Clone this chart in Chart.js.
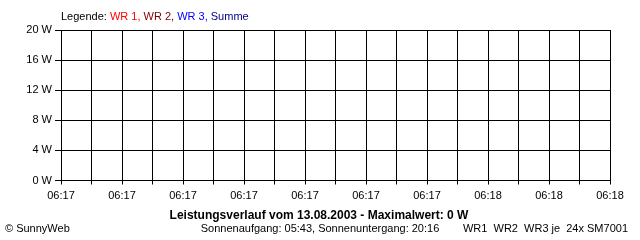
<!DOCTYPE html>
<html>
<head>
<meta charset="utf-8">
<script src="https://cdn.jsdelivr.net/npm/chart.js@4/dist/chart.umd.min.js"></script>
<style>
  html, body { margin: 0; padding: 0; background: #fff; }
  #wrap { width: 640px; height: 240px; }
</style>
</head>
<body>
<div id="wrap"><canvas id="powerChart"></canvas></div>
<script>
// tick labels on the time axis (every second grid line)
const timeLabels = ['06:17', '06:17', '06:17', '06:17', '06:17', '06:17', '06:17', '06:18', '06:18', '06:18'];

// series values (W) - one per grid line, nothing was produced
const wr1Values   = [0, 0, 0, 0, 0, 0, 0, 0, 0, 0, 0, 0, 0, 0, 0, 0, 0, 0, 0];
const wr2Values   = [0, 0, 0, 0, 0, 0, 0, 0, 0, 0, 0, 0, 0, 0, 0, 0, 0, 0, 0];
const wr3Values   = [0, 0, 0, 0, 0, 0, 0, 0, 0, 0, 0, 0, 0, 0, 0, 0, 0, 0, 0];
const summeValues = [0, 0, 0, 0, 0, 0, 0, 0, 0, 0, 0, 0, 0, 0, 0, 0, 0, 0, 0];

const seriesNames  = ['WR 1', 'WR 2', 'WR 3', 'Summe'];
const seriesColors = ['#ff0000', '#800000', '#0000ff', '#000080'];

const yMax = 20;
const yStep = 4;

const titleText = 'Leistungsverlauf vom 13.08.2003 - Maximalwert: 0 W';
const sunText = 'Sonnenaufgang: 05:43, Sonnenuntergang: 20:16';
const plantText = 'WR1  WR2  WR3 je  24x SM7001';
const copyText = '\u00a9 SunnyWeb';

const FONT = '"Liberation Sans", Arial, sans-serif';

// category labels: a time on every second line, blank in between
const xLabels = [];
timeLabels.forEach((t, i) => {
    xLabels.push(t);
    if (i < timeLabels.length - 1) xLabels.push('');
});

const textPlugin = {
    id: 'sunnyText',
    afterDraw(chart) {
        const ctx = chart.ctx;
        ctx.save();
        ctx.textBaseline = 'middle';

        // legend line
        ctx.font = '11px ' + FONT;
        ctx.textAlign = 'left';
        let x = 61;
        ctx.fillStyle = '#000';
        ctx.fillText('Legende: ', x, 17);
        x += ctx.measureText('Legende: ').width;
        seriesNames.forEach((name, i) => {
            const part = name + (i < seriesNames.length - 1 ? ', ' : '');
            ctx.fillStyle = seriesColors[i];
            ctx.fillText(part, x, 17);
            x += ctx.measureText(part).width;
        });

        // bottom texts
        ctx.fillStyle = '#000';
        ctx.font = 'bold 12px ' + FONT;
        ctx.textAlign = 'center';
        ctx.fillText(titleText, 319, 216);

        ctx.font = '11px ' + FONT;
        ctx.fillText(sunText, 320, 229);
        ctx.textAlign = 'left';
        ctx.fillText(copyText, 5, 229);
        ctx.textAlign = 'right';
        ctx.fillText(plantText, 628, 229);
        ctx.restore();
    }
};

const ctx = document.getElementById('powerChart').getContext('2d');

new Chart(ctx, {
    type: 'line',
    data: {
        labels: xLabels,
        datasets: [wr1Values, wr2Values, wr3Values, summeValues].map((vals, i) => ({
            label: seriesNames[i],
            data: vals,
            borderColor: seriesColors[i],
            backgroundColor: seriesColors[i],
            borderWidth: 1,
            pointRadius: 0,
            tension: 0
        }))
    },
    options: {
        responsive: true,
        maintainAspectRatio: false,
        animation: false,
        layout: {
            padding: { top: 30, right: 30, left: 0, bottom: 0 }
        },
        plugins: {
            legend: { display: false },
            tooltip: { enabled: false },
            title: { display: false }
        },
        scales: {
            x: {
                type: 'category',
                offset: false,
                // half pixel so the zero line sits exactly under the axis
                afterFit(scale) { scale.height = 59.5; },
                grid: {
                    z: 1,
                    color: '#000',
                    lineWidth: 1,
                    drawTicks: true,
                    tickLength: 4,
                    tickColor: '#000'
                },
                border: { z: 1, color: '#000', width: 1 },
                ticks: {
                    autoSkip: false,
                    maxRotation: 0,
                    minRotation: 0,
                    padding: 5,
                    color: '#000',
                    font: { family: FONT, size: 11 }
                }
            },
            y: {
                min: 0,
                max: yMax,
                afterFit(scale) { scale.width = 61; },
                grid: {
                    z: 1,
                    color: '#000',
                    lineWidth: 1,
                    tickLength: 6,
                    tickColor: '#000'
                },
                border: { z: 1, color: '#000', width: 1 },
                ticks: {
                    stepSize: yStep,
                    padding: 3,
                    color: '#000',
                    font: { family: FONT, size: 11 },
                    callback: v => v + ' W'
                }
            }
        }
    },
    plugins: [textPlugin]
});
</script>
</body>
</html>
